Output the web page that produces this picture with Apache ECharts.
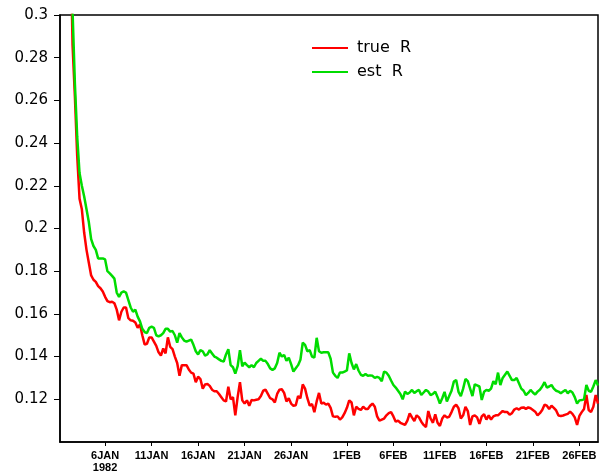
<!DOCTYPE html>
<html>
<head>
<meta charset="utf-8">
<script src="https://cdn.jsdelivr.net/npm/echarts@6/dist/echarts.min.js"></script>
<style>html,body{margin:0;padding:0;background:#fff}#c{width:604px;height:474px}</style>
</head>
<body>
<div id="c"></div>
<script>
// 6-hourly samples, day 0 = 1 JAN 1982 00Z
const stepDays = 0.25;
const trueR = [
0.60,0.53,0.47,0.42,0.38,0.345,0.286,0.262,0.234,0.214,
0.209,0.198,0.190,0.184,0.178,0.176,0.175,0.173,0.172,0.1705,
0.168,0.166,0.1655,0.1657,0.165,0.162,0.157,0.161,0.163,0.163,
0.158,0.157,0.1568,0.156,0.1535,0.155,0.150,0.1457,0.146,0.149,
0.149,0.147,0.145,0.142,0.1405,0.1438,0.1415,0.149,0.1446,0.1435,
0.140,0.137,0.131,0.136,0.136,0.136,0.134,0.1325,0.132,0.128,
0.1306,0.1295,0.125,0.127,0.1272,0.1263,0.1245,0.1238,0.1238,0.1225,
0.121,0.1195,0.119,0.1259,0.120,0.121,0.1125,0.121,0.128,0.1195,
0.118,0.1195,0.117,0.1197,0.1195,0.1198,0.120,0.1215,0.124,0.1245,
0.1225,0.1205,0.120,0.1185,0.1225,0.1245,0.1247,0.123,0.119,0.1205,
0.118,0.117,0.1172,0.1215,0.1205,0.127,0.125,0.1205,0.117,0.1178,
0.114,0.119,0.123,0.118,0.1184,0.1175,0.118,0.116,0.112,0.1118,
0.112,0.1105,0.1115,0.1135,0.116,0.1195,0.1185,0.1125,0.1165,0.1155,
0.115,0.1165,0.1155,0.1155,0.117,0.118,0.1165,0.112,0.110,0.1105,
0.111,0.1125,0.1135,0.114,0.112,0.1095,0.110,0.109,0.1085,0.108,
0.110,0.1134,0.1115,0.1098,0.1125,0.1115,0.1095,0.108,0.107,0.1145,
0.111,0.109,0.113,0.109,0.1075,0.111,0.1125,0.1115,0.1118,0.114,
0.1165,0.1175,0.1158,0.111,0.1125,0.1165,0.1145,0.108,0.112,0.1125,
0.1115,0.1085,0.112,0.113,0.1105,0.1125,0.1105,0.112,0.1125,0.1125,
0.1135,0.1145,0.114,0.114,0.1128,0.1135,0.1152,0.1158,0.1152,0.116,
0.1162,0.1155,0.1162,0.1158,0.115,0.1142,0.1125,0.1135,0.115,0.1175,
0.117,0.1155,0.117,0.116,0.1148,0.1124,0.1122,0.1124,0.1128,0.1132,
0.1142,0.1132,0.1115,0.108,0.1122,0.114,0.1155,0.122,0.115,0.114,
0.1165,0.122,0.118
];
const estR = [
0.62,0.54,0.48,0.43,0.39,0.35,0.302,0.268,0.243,0.226,
0.220,0.215,0.209,0.203,0.195,0.1918,0.190,0.186,0.186,0.186,
0.1855,0.180,0.179,0.1778,0.1765,0.170,0.168,0.170,0.1705,0.170,
0.1665,0.163,0.161,0.162,0.1587,0.1565,0.153,0.1515,0.151,0.1535,
0.154,0.1535,0.150,0.1495,0.150,0.151,0.153,0.153,0.1517,0.152,
0.150,0.1465,0.151,0.149,0.1475,0.147,0.1475,0.148,0.1455,0.1425,
0.141,0.143,0.1425,0.1405,0.141,0.143,0.1415,0.140,0.1395,0.1387,
0.138,0.1377,0.141,0.1435,0.136,0.135,0.132,0.1355,0.143,0.1355,
0.1372,0.136,0.135,0.136,0.135,0.137,0.138,0.139,0.138,0.138,
0.1365,0.1345,0.1338,0.1345,0.137,0.1418,0.140,0.1408,0.138,0.1395,
0.1365,0.133,0.1345,0.136,0.1385,0.1465,0.1455,0.1425,0.143,0.140,
0.1395,0.1488,0.1425,0.1418,0.142,0.142,0.142,0.139,0.1325,0.131,
0.130,0.1325,0.1325,0.133,0.1335,0.1415,0.137,0.134,0.1365,0.1335,
0.1315,0.131,0.1318,0.131,0.1312,0.131,0.130,0.1305,0.130,0.1285,
0.133,0.1325,0.131,0.1288,0.1267,0.1255,0.124,0.1225,0.120,0.1236,
0.1225,0.1232,0.1244,0.123,0.1238,0.1244,0.122,0.1232,0.1244,0.1236,
0.122,0.1225,0.1236,0.121,0.118,0.1205,0.1235,0.119,0.1215,0.124,
0.1283,0.129,0.1235,0.1215,0.125,0.1295,0.1285,0.125,0.1215,0.127,
0.1265,0.126,0.1197,0.1235,0.1244,0.124,0.125,0.1285,0.127,0.1325,
0.1267,0.130,0.1315,0.133,0.131,0.129,0.129,0.130,0.1275,0.125,
0.124,0.122,0.123,0.1244,0.1232,0.1222,0.1236,0.1245,0.126,0.128,
0.1255,0.126,0.1267,0.125,0.124,0.1236,0.1228,0.1236,0.1244,0.1228,
0.124,0.1232,0.121,0.118,0.1195,0.1197,0.120,0.1267,0.124,0.1235,
0.126,0.129,0.1265
];
const tickDays = [5,10,15,20,25,31,36,41,46,51,56];
const tickLabels = ['6JAN\n1982','11JAN','16JAN','21JAN','26JAN','1FEB','6FEB','11FEB','16FEB','21FEB','26FEB'];
const seriesNames = ['true  R','est  R'];
const seriesColors = ['#ff0000','#00dc00'];

const pairs = arr => arr.map((v,i)=>[i*stepDays, v]);

const chart = echarts.init(document.getElementById('c'), null, {renderer:'canvas'});
chart.setOption({
  animation:false,
  backgroundColor:'#fff',
  grid:{left:60,top:15,right:6,bottom:32,show:true,borderColor:'#000',borderWidth:1.5,backgroundColor:'transparent'},
  legend:{
    orient:'vertical', left:307, top:35, itemWidth:36, itemHeight:2, itemGap:8,
    icon:'rect',
    textStyle:{fontFamily:'DejaVu Sans', fontSize:16, color:'#000', padding:[0,0,0,4]},
    data:seriesNames
  },
  xAxis:{
    type:'value', min:0.15, max:58,
    axisLine:{show:true,lineStyle:{color:'#000',width:1.5}},
    axisTick:{show:true,length:4,inside:false,lineStyle:{color:'#000',width:1},customValues:tickDays},
    splitLine:{show:false},
    axisLabel:{
      customValues:tickDays,
      margin:8,
      fontFamily:'Liberation Sans', fontWeight:'bold', fontSize:11, lineHeight:12, color:'#000',
      formatter:function(v){const k=tickDays.indexOf(Math.round(v));return k>=0?tickLabels[k]:'';}
    }
  },
  yAxis:{
    type:'value', min:0.1, max:0.3, interval:0.02,
    axisLine:{show:true,lineStyle:{color:'#000',width:1.5}},
    axisTick:{show:true,length:6,lineStyle:{color:'#000',width:1}},
    splitLine:{show:false},
    axisLabel:{
      showMinLabel:false, margin:12,
      fontFamily:'DejaVu Sans', fontSize:15, color:'#000',
      formatter:function(v){return String(parseFloat(v.toFixed(2)));}
    }
  },
  series:[
    {name:seriesNames[0], type:'line', data:pairs(trueR), showSymbol:false, symbol:'none',
     lineStyle:{color:seriesColors[0], width:2.5}, itemStyle:{color:seriesColors[0]}, clip:true},
    {name:seriesNames[1], type:'line', data:pairs(estR), showSymbol:false, symbol:'none',
     lineStyle:{color:seriesColors[1], width:2.5}, itemStyle:{color:seriesColors[1]}, clip:true}
  ]
});
</script>
</body>
</html>
